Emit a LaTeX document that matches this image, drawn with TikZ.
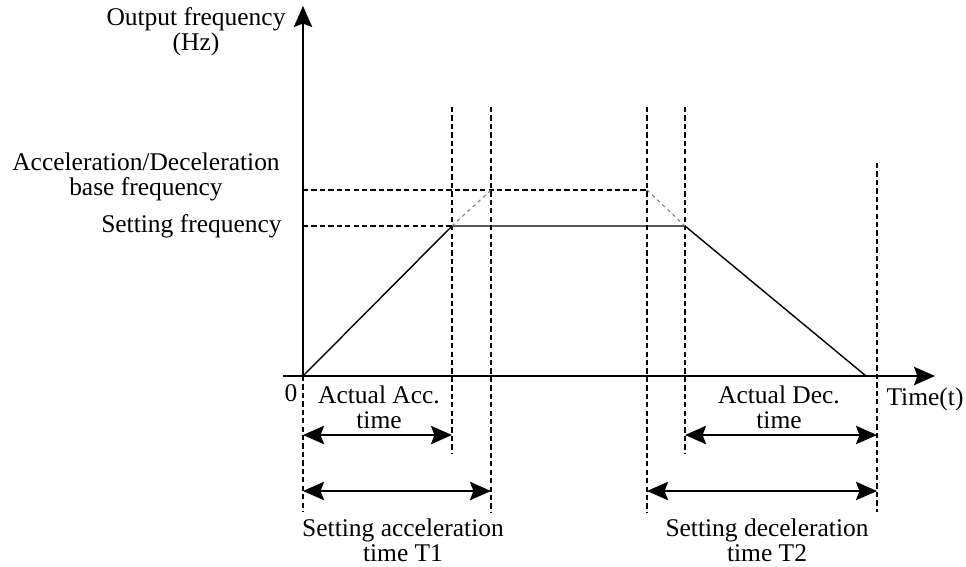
\documentclass[tikz,border=0pt]{standalone}
\usepackage{fontspec}
\setmainfont{Liberation Serif}
\usetikzlibrary{arrows.meta}

\tikzset{
  tip/.style={-{Stealth[length=12pt,width=10.5pt,inset=2pt]}},
  axis/.style={line width=0.85pt,tip},
  curve/.style={line width=0.8pt},
  guide/.style={line width=0.6pt,dash pattern=on 3pt off 1.8pt},
  ext/.style={line width=0.6pt,gray,dash pattern=on 2pt off 2pt},
  span/.style={line width=0.85pt,{Stealth[length=12pt,width=10.5pt,inset=2pt]}-{Stealth[length=12pt,width=10.5pt,inset=2pt]}},
  lbl/.style={font=\fontsize{14.5}{14}\selectfont,inner sep=0pt,align=center}
}

\begin{document}
\begin{tikzpicture}[x=0.02cm,y=-0.02cm]
\useasboundingbox (0,0) rectangle (966,566);

%points
\coordinate (O) at (303,376);
\coordinate (ytop) at (303,6);
\coordinate (xbeg) at (283,376);
\coordinate (xend) at (935,376);
\coordinate (A) at (452,226);
\coordinate (Ab) at (491,190);
\coordinate (D) at (685,226);
\coordinate (Db) at (647,190);
\coordinate (E) at (866,376);
\coordinate (Oy) at (303,190);
\coordinate (Os) at (303,226);

%axes
\draw[axis] (xbeg) -- (xend);
\draw[axis] (O) -- (ytop);

%guide lines
\draw[guide] (O) -- (303,512);
\draw[guide] (452,107) -- (452,453);
\draw[guide] (491,107) -- (491,512);
\draw[guide] (647,107) -- (647,512);
\draw[guide] (685,107) -- (685,453);
\draw[guide] (877,163) -- (877,512);
\draw[guide] (Os) -- (A);
\draw[guide] (Oy) -- (Db);

%frequency curve
\draw[curve] (O) -- (A) -- (D) -- (E);
\draw[ext] (A) -- (Ab);
\draw[ext] (Db) -- (D);

%time spans
\coordinate (a1) at (303,435); \coordinate (a2) at (452,435);
\coordinate (d1) at (685,435); \coordinate (d2) at (877,435);
\coordinate (s1) at (303,491); \coordinate (s2) at (491,491);
\coordinate (t1) at (647,491); \coordinate (t2) at (877,491);
\draw[span] (a1) -- (a2);
\draw[span] (d1) -- (d2);
\draw[span] (s1) -- (s2);
\draw[span] (t1) -- (t2);

%labels
\node[lbl] (yname) at (196,32) {Output frequency\\(Hz)};
\node[lbl] (fbase) at (146,177) {Acceleration/Deceleration\\base frequency};
\node[lbl,anchor=east] (fset) at (282,226) {Setting frequency};
\node[lbl] (zero) at (291,393) {0};
\node[lbl] (xname) at (925,399) {Time(t)};
\node[lbl] (tacc) at (379,407) {Actual Acc.\\time};
\node[lbl] (tdec) at (779,407) {Actual Dec.\\time};
\node[lbl] (T1) at (403,540) {Setting acceleration\\time T1};
\node[lbl] (T2) at (767,540) {Setting deceleration\\time T2};
\end{tikzpicture}
\end{document}
